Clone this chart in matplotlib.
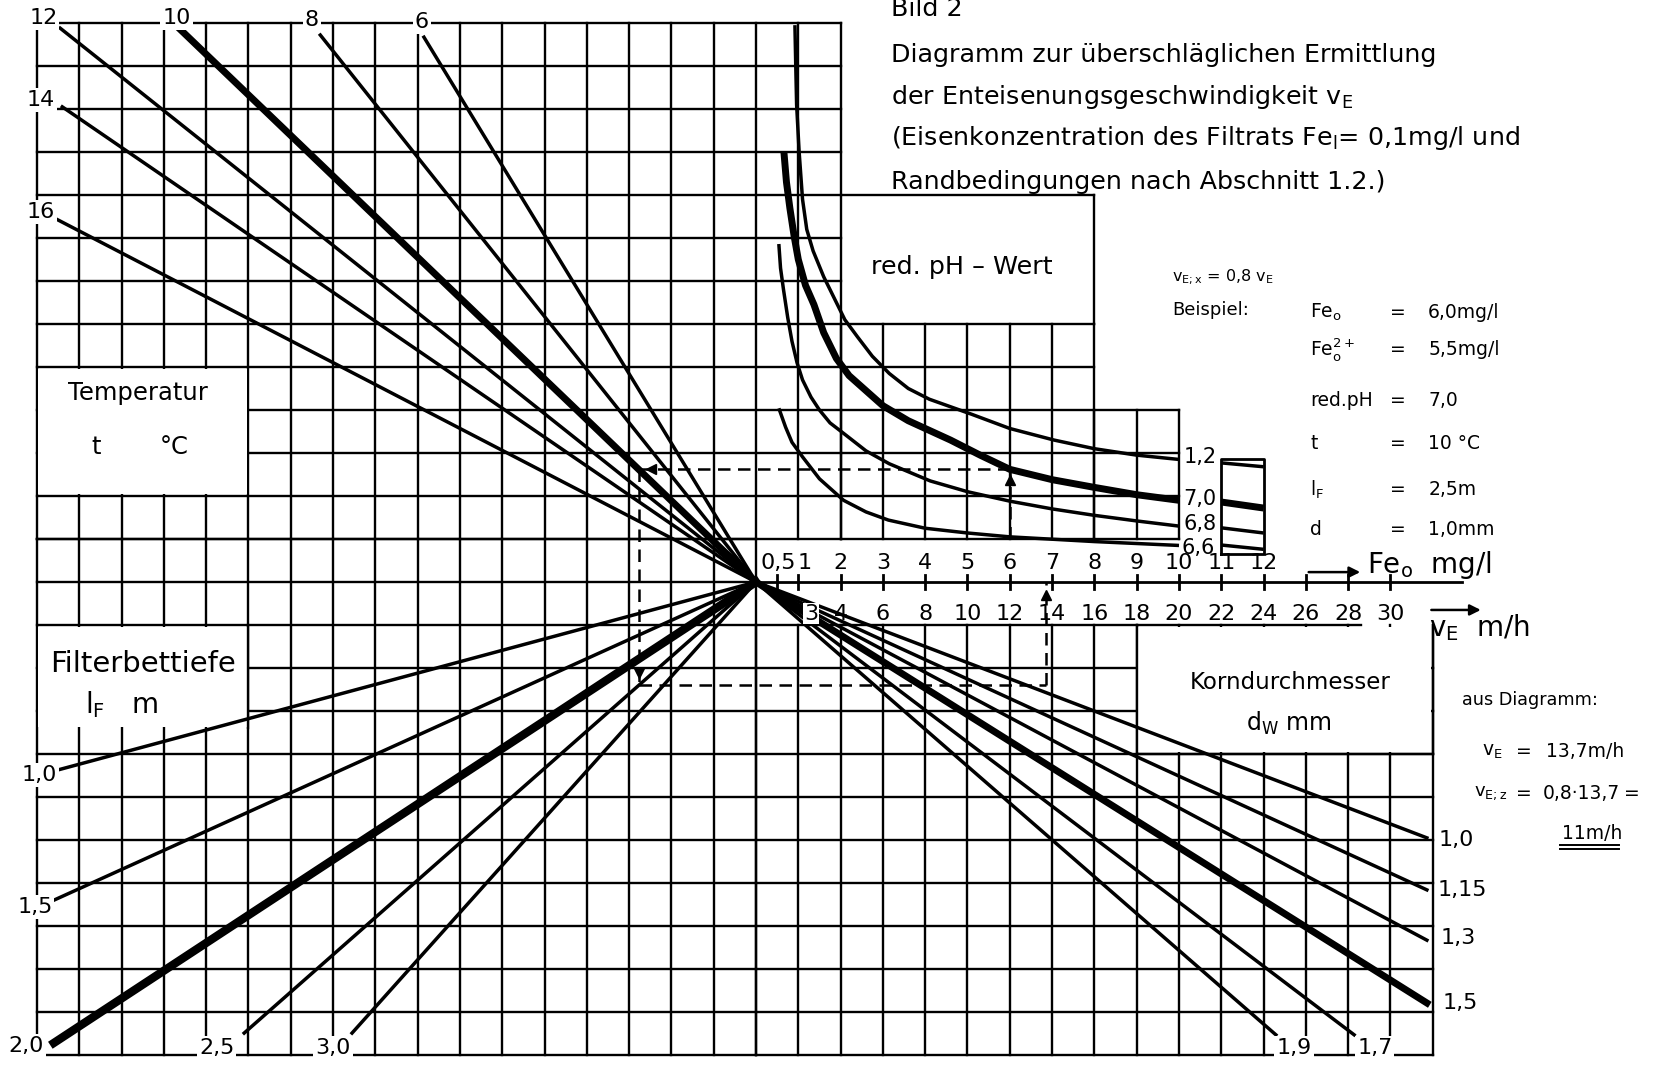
import numpy as np
import matplotlib.pyplot as plt
from matplotlib.patches import Rectangle

plt.rcParams['font.family'] = ['DejaVu Sans']
plt.rcParams['mathtext.fontset'] = 'dejavusans'

# nomogram grid: one cell per Fe_o unit, every scale line runs through (0, 0)
PX_U, PX_V = 42.3, 43.0
X0, Y0 = 756, 582
W, H = 1657, 1070

# temperature t in deg C (upper left), outer ends of the rays
temp_labels = ["12", "10", "8", "6", "14", "16"]
temp_end_u = [-16.45, -13.6, -10.3, -7.85, -16.4, -16.6]
temp_end_v = [12.88, 12.84, 12.72, 12.67, 11.05, 8.47]

# filter bed depth l_F in m (lower left)
filt_labels = ["1,0", "1,5", "2,0", "2,5", "3,0"]
filt_end_u = [-16.5, -16.6, -16.6, -12.1, -9.55]
filt_end_v = [-4.37, -7.4, -10.72, -10.49, -10.49]

# grain diameter d_w in mm (lower right)
grain_labels = ["1,0", "1,15", "1,3", "1,5", "1,7", "1,9"]
grain_end_u = [15.86, 15.86, 15.86, 15.86, 14.14, 12.29]
grain_end_v = [-5.95, -7.16, -8.33, -9.79, -10.53, -10.53]

# reduced pH curves over Fe_o (mg/l)
ph_labels = ["1,2", "7,0", "6,8", "6,6"]
ph_fe = [
    [0.92, 0.94, 0.96, 1.02, 1.1, 1.2, 1.35, 1.6, 1.85, 2.1, 2.4, 2.75, 3.15,
     3.6, 4.1, 5.1, 6.0, 7.05, 8.0, 9.0, 10.0],
    [0.66, 0.72, 0.8, 0.9, 1.0, 1.17, 1.37, 1.6, 1.9, 2.2, 2.6, 3.0, 3.6, 4.6,
     5.3, 6.0, 7.0, 8.0, 9.0, 10.0],
    [0.54, 0.58, 0.65, 0.75, 0.85, 0.97, 1.1, 1.3, 1.5, 1.75, 2.08, 2.6, 3.15,
     4.12, 5.0, 6.0, 7.0, 8.0, 9.0, 10.0],
    [0.54, 0.7, 0.85, 1.1, 1.5, 2.07, 2.6, 3.13, 4.0, 5.0, 6.0, 8.0, 10.0],
]
ph_row = [
    [12.95, 12.0, 11.1, 10.0, 8.9, 8.2, 7.7, 7.1, 6.6, 6.1, 5.7, 5.25, 4.85,
     4.5, 4.25, 3.9, 3.57, 3.3, 3.1, 2.95, 2.85],
    [10.0, 9.3, 8.7, 8.05, 7.5, 6.9, 6.45, 5.8, 5.2, 4.8, 4.45, 4.1, 3.75, 3.3,
     2.95, 2.62, 2.38, 2.2, 2.03, 1.9],
    [7.86, 7.3, 6.8, 6.15, 5.6, 5.1, 4.7, 4.3, 4.0, 3.7, 3.45, 3.05, 2.75,
     2.35, 2.1, 1.88, 1.7, 1.55, 1.42, 1.3],
    [4.04, 3.6, 3.25, 2.91, 2.4, 1.9, 1.63, 1.44, 1.25, 1.14, 1.05, 0.94, 0.85],
]
# continuation for Fe_o 11..12 in the small side box
ph_ext_fe = [11, 12]
ph_ext_row = [[2.77, 2.68], [1.86, 1.72], [1.26, 1.14], [0.86, 0.76]]

fe_ticks = [0.5, 1, 2, 3, 4, 5, 6, 7, 8, 9, 10, 11, 12]
fe_labels = ["0,5", "1", "2", "3", "4", "5", "6", "7", "8", "9", "10", "11", "12"]
ve_ticks = [3, 4, 6, 8, 10, 12, 14, 16, 18, 20, 22, 24, 26, 28, 30]

# worked example
fe_ex = 6.0
ve_ex = 13.7

GRID_LW = 1.7
LINE_LW = 2.5
BOLD_LW = 5.0
LAB_FS = 16

fig = plt.figure(figsize=(W / 100, H / 100), dpi=100)
ax = fig.add_axes([0, 0, 1, 1])
ax.set_xlim(-X0 / PX_U, (W - X0) / PX_U)
ax.set_ylim((Y0 - H) / PX_V, Y0 / PX_V)
ax.axis('off')


def seg(xs, ys, lw=GRID_LW, z=1, **kw):
    ax.plot(xs, ys, color='k', lw=lw, zorder=z, solid_capstyle='projecting', **kw)


def grid(u0, u1, v0, v1, top=True):
    for u in range(u0, u1 + 1):
        seg([u, u], [v0, v1])
    for v in range(v0, v1 + 1 if top else v1):
        seg([u0, u1], [v, v])


grid(-17, 2, 1, 13)
grid(2, 8, 1, 6)
grid(8, 10, 1, 4)
grid(-17, 0, -11, 1)
grid(0, 16, -11, -1, top=False)
seg([0, 14.3], [-1, -1])

# label boxes cut out of the grid
def blank(u0, u1, v0, v1):
    ax.add_patch(Rectangle((u0 + 0.035, v0 + 0.035), u1 - u0 - 0.07, v1 - v0 - 0.07,
                           facecolor='white', edgecolor='none', zorder=2))

blank(-17, -12, 2, 5)
blank(-17, -12, -3.4, -1)
blank(9, 16, -4, -1)
seg([9, 9], [-4, -1], z=3)
seg([9, 16], [-4, -4], z=3)
seg([16, 16], [-4, -1], z=3)
seg([-12, -12], [-3.4, -1], z=3)
# red. pH box
seg([2, 8], [9, 9])
seg([8, 8], [6, 9])
# side box for Fe_o 11..12
seg([11, 12, 12, 11, 11], [0.66, 0.66, 2.86, 2.86, 0.66], lw=2.0)

# rays through the pivot
for u, v, lab in zip(temp_end_u, temp_end_v, temp_labels):
    seg([0, u], [0, v], lw=BOLD_LW if lab == "10" else LINE_LW, z=4)
for u, v, lab in zip(filt_end_u, filt_end_v, filt_labels):
    seg([0, u], [0, v], lw=BOLD_LW + 1 if lab == "2,0" else LINE_LW, z=4)
for u, v, lab in zip(grain_end_u, grain_end_v, grain_labels):
    seg([0, u], [0, v], lw=BOLD_LW if lab == "1,5" else LINE_LW, z=4)

for fe, row, ext, lab in zip(ph_fe, ph_row, ph_ext_row, ph_labels):
    lw = BOLD_LW if lab == "7,0" else LINE_LW
    ax.plot(fe, row, color='k', lw=lw, zorder=4, solid_capstyle='butt',
            solid_joinstyle='round')
    ax.plot(ph_ext_fe, ext, color='k', lw=lw, zorder=4, solid_capstyle='butt')

# Fe_o / v_E axis
seg([0, 16.7], [0, 0], lw=2.0, z=4)
for fe in fe_ticks + [13, 14, 15]:
    seg([fe, fe], [-0.17, 0.17], lw=2.0, z=4)
shift = {0.5: 0.02, 1: 0.14}
for fe, lab in zip(fe_ticks, fe_labels):
    ax.text(fe + shift.get(fe, 0), 0.44, lab, fontsize=LAB_FS, ha='center', va='center',
            zorder=6)
for ve in ve_ticks:
    u = ve / 2 if ve != 3 else 1.3
    box = dict(facecolor='white', edgecolor='none', pad=0.5) if ve == 3 else None
    ax.text(u, -0.74, str(ve), fontsize=LAB_FS, ha='center', va='center', zorder=6,
            bbox=box)

arrow = dict(arrowstyle='-|>', lw=1.8, color='k', mutation_scale=16)
ax.annotate('', xy=(14.35, 0.23), xytext=(13.0, 0.23), arrowprops=arrow)
ax.annotate('', xy=(17.2, -0.65), xytext=(15.9, -0.65), arrowprops=arrow)
ax.text(14.45, 0.4, r"Fe$_\mathrm{o}$  mg/l", fontsize=20, ha='left', va='center')
ax.text(15.9, -1.05, r"$\mathrm{v_E}$  m/h", fontsize=20, ha='left', va='center')

# scale labels on the border
wb = dict(facecolor='white', edgecolor='none', pad=1.5)
temp_lab_pos = [(-16.85, 13.12), (-13.7, 13.12), (-10.5, 13.07), (-7.9, 13.02),
                (-16.9, 11.2), (-16.9, 8.6)]
filt_lab_pos = [(-16.95, -4.5), (-17.05, -7.55), (-17.25, -10.8), (-12.75, -10.84),
                (-10.0, -10.84)]
grain_lab_pos = [(16.55, -6.0), (16.7, -7.16), (16.6, -8.28), (16.65, -9.79),
                 (14.63, -10.84), (12.72, -10.84)]
for labs, pos in [(temp_labels, temp_lab_pos), (filt_labels, filt_lab_pos),
                  (grain_labels, grain_lab_pos)]:
    for lab, (u, v) in zip(labs, pos):
        ax.text(u, v, lab, fontsize=LAB_FS, ha='center', va='center', bbox=wb, zorder=6)
ph_lab_pos = [(10.5, 2.9), (10.5, 1.93), (10.5, 1.36), (10.45, 0.8)]
for lab, (u, v) in zip(ph_labels, ph_lab_pos):
    ax.text(u, v, lab, fontsize=LAB_FS - 1, ha='center', va='center', zorder=6)

# box captions
ax.text(4.87, 7.33, "red. pH – Wert", fontsize=18.3, ha='center', va='center')
ax.text(-14.6, 4.4, "Temperatur", fontsize=17.5, ha='center', va='center')
ax.text(-15.6, 3.14, "t", fontsize=17.5, ha='center', va='center')
ax.text(-13.75, 3.14, "°C", fontsize=17.5, ha='center', va='center')
ax.text(-14.5, -1.9, "Filterbettiefe", fontsize=21, ha='center', va='center')
ax.text(-15.0, -2.85, r"$\mathrm{l_F}$   m", fontsize=20, ha='center', va='center')
ax.text(12.63, -2.33, "Korndurchmesser", fontsize=16.5, ha='center', va='center')
ax.text(12.6, -3.28, r"$\mathrm{d_W}$ mm", fontsize=17, ha='center', va='center')

# caption
title_lines = [
    "Bild 2",
    "Diagramm zur überschläglichen Ermittlung",
    r"der Enteisenungsgeschwindigkeit $\mathrm{v_E}$",
    r"(Eisenkonzentration des Filtrats Fe$_\mathrm{l}$= 0,1mg/l und",
    "Randbedingungen nach Abschnitt 1.2.)",
]
for txt, v in zip(title_lines, [13.33, 12.26, 11.28, 10.33, 9.30]):
    ax.text(3.19, v, txt, fontsize=18.3, ha='left', va='center')

# example values
ax.text(9.83, 7.09, r"$\mathrm{v_{E;x}}$ = 0,8 $\mathrm{v_E}$", fontsize=11.5, ha='left',
        va='center')
ax.text(9.83, 6.33, "Beispiel:", fontsize=13, ha='left', va='center')
ex_names = [r"Fe$_\mathrm{o}$", r"Fe$_\mathrm{o}^{2+}$", "red.pH", "t",
            r"$\mathrm{l_F}$", "d"]
ex_values = ["6,0mg/l", "5,5mg/l", "7,0", "10 °C", "2,5m", "1,0mm"]
for name, val, v in zip(ex_names, ex_values, [6.26, 5.40, 4.23, 3.23, 2.14, 1.21]):
    ax.text(13.1, v, name, fontsize=13.5, ha='left', va='center')
    ax.text(15.18, v, "=", fontsize=13.5, ha='center', va='center')
    ax.text(15.89, v, val, fontsize=13.5, ha='left', va='center')

ax.text(16.69, -2.74, "aus Diagramm:", fontsize=12.7, ha='left', va='center')
ax.text(17.16, -3.95, r"$\mathrm{v_E}$", fontsize=13.5, ha='left', va='center')
ax.text(18.16, -3.95, "=", fontsize=13.5, ha='center', va='center')
ax.text(18.68, -3.95, "13,7m/h", fontsize=13.5, ha='left', va='center')
ax.text(16.98, -4.91, r"$\mathrm{v_{E;z}}$", fontsize=13, ha='left', va='center')
ax.text(18.15, -4.91, "=", fontsize=13.5, ha='center', va='center')
ax.text(18.6, -4.91, "0,8·13,7", fontsize=13.5, ha='left', va='center')
ax.text(20.7, -4.91, "=", fontsize=13.5, ha='center', va='center')
ax.text(19.05, -5.84, "11m/h", fontsize=13.5, ha='left', va='center')
seg([19.0, 20.4], [-6.12, -6.12], lw=1.4)
seg([19.0, 20.4], [-6.22, -6.22], lw=1.4)

# worked example path: Fe_o -> pH 7,0 -> t 10 -> l_F 2,5 -> d 1,0 -> v_E
row_ph = np.interp(fe_ex, ph_fe[1], ph_row[1])
u_t = row_ph * temp_end_u[1] / temp_end_v[1]
v_l = u_t * filt_end_v[3] / filt_end_u[3]
u_ve = ve_ex / 2
dash = dict(color='k', lw=1.8, ls=(0, (5, 3)), zorder=5)
ax.plot([fe_ex, fe_ex], [1, row_ph], **dash)
ax.plot([fe_ex, u_t], [row_ph, row_ph], **dash)
ax.plot([u_t, u_t], [row_ph, v_l], **dash)
ax.plot([u_t, u_ve], [v_l, v_l], **dash)
ax.plot([u_ve, u_ve], [v_l, 0], **dash)
for x, y, m in [(fe_ex, row_ph - 0.25, '^'), (u_t + 0.3, row_ph, '<'),
                (u_t, v_l + 0.3, 'v'), (u_ve, -0.3, '^')]:
    ax.plot(x, y, marker=m, ms=7, color='k', zorder=5)

fig.savefig("out.png", dpi=100, facecolor='white')
